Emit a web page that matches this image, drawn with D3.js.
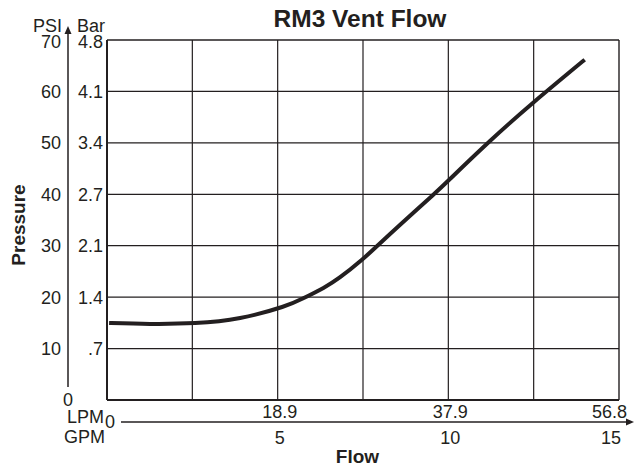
<!DOCTYPE html>
<html><head><meta charset="utf-8">
<script src="https://cdn.jsdelivr.net/npm/d3@7"></script>
<style>body{margin:0;background:#fff}svg{display:block}text{font-family:"Liberation Sans",Arial,Helvetica,sans-serif;fill:#231f20}</style>
</head><body>
<svg id="c" width="634" height="469"></svg>
<script>
const flowGpm = [0.12, 1.26, 2.58, 3.90, 5.13, 5.75, 6.34, 6.83, 7.46, 8.0, 8.58, 9.52, 10.08, 11.22, 12.51, 13.95];
const pressurePsi = [14.97, 14.8, 14.95, 15.94, 18.08, 19.78, 21.8, 23.88, 27.22, 30.47, 34.03, 39.67, 43.17, 50.36, 57.94, 65.92];
const psiTicks = [10, 20, 30, 40, 50, 60, 70];
const barTicks = [".7", "1.4", "2.1", "2.7", "3.4", "4.1", "4.8"];
const gpmGrid = [0, 2.5, 5, 7.5, 10, 12.5, 15];
const gpmTicks = [5, 10, 15];
const lpmTicks = ["18.9", "37.9", "56.8"];

const svg = d3.select("#c");
const L = 107, R = 619, T = 40, B = 400;
const x = d3.scaleLinear().domain([0, 15]).range([L, R]);
const y = d3.scaleLinear().domain([0, 70]).range([B, T]);
const ink = "#231f20";

// grid
svg.append("g").selectAll("line").data(gpmGrid.slice(1, -1)).join("line")
  .attr("x1", d => x(d)).attr("x2", d => x(d)).attr("y1", T).attr("y2", B)
  .attr("stroke", ink).attr("stroke-width", 1.2);
svg.append("g").selectAll("line").data(psiTicks.slice(0, -1)).join("line")
  .attr("x1", L).attr("x2", R).attr("y1", d => y(d)).attr("y2", d => y(d))
  .attr("stroke", ink).attr("stroke-width", 1.2);
// frame
svg.append("line").attr("x1", L).attr("x2", R).attr("y1", T).attr("y2", T).attr("stroke", ink).attr("stroke-width", 1.4);
svg.append("line").attr("x1", R).attr("x2", R).attr("y1", T).attr("y2", B).attr("stroke", ink).attr("stroke-width", 1.4);
svg.append("line").attr("x1", L).attr("x2", L).attr("y1", T).attr("y2", B).attr("stroke", ink).attr("stroke-width", 2);
svg.append("line").attr("x1", L).attr("x2", R).attr("y1", B).attr("y2", B).attr("stroke", ink).attr("stroke-width", 2);

// curve
const pts = flowGpm.map((g, i) => [g, pressurePsi[i]]);
svg.append("path").datum(pts)
  .attr("d", d3.line().x(d => x(d[0])).y(d => y(d[1])).curve(d3.curveNatural))
  .attr("fill", "none").attr("stroke", ink).attr("stroke-width", 4).attr("stroke-linecap", "square");

// y axis line with arrow
const ax = 68;
svg.append("line").attr("x1", ax).attr("x2", ax).attr("y1", 32).attr("y2", 387).attr("stroke", ink).attr("stroke-width", 1.5);
svg.append("path").attr("d", `M${ax},26 L${ax - 3.5},34 L${ax + 3.5},34 Z`).attr("fill", ink);
svg.append("text").attr("x", 62).attr("y", 32).attr("text-anchor", "end").attr("font-size", 18).text("PSI");
svg.append("text").attr("x", 77).attr("y", 32).attr("font-size", 18).text("Bar");
svg.append("g").selectAll("text").data(psiTicks).join("text")
  .attr("x", 61).attr("y", d => y(d) + 6.5 + (d === 70 ? 1 : 0)).attr("text-anchor", "end").attr("font-size", 18).text(d => d);
svg.append("g").selectAll("text").data(barTicks).join("text")
  .attr("x", 103).attr("y", (d, i) => y(psiTicks[i]) + 6.5 + (i === 6 ? 1 : 0)).attr("text-anchor", "end").attr("font-size", 18).text(d => d);
svg.append("text").attr("x", ax).attr("y", 405.5).attr("text-anchor", "middle").attr("font-size", 18).text("0");

// Pressure label
svg.append("text").attr("transform", "translate(25,225) rotate(-90)").attr("text-anchor", "middle")
  .attr("font-size", 19).attr("font-weight", "bold").text("Pressure");

// x axis line with arrow
const ay = 422;
svg.append("line").attr("x1", 121).attr("x2", 627).attr("y1", ay).attr("y2", ay).attr("stroke", ink).attr("stroke-width", 1.5);
svg.append("path").attr("d", `M634,${ay} L626,${ay - 3.5} L626,${ay + 3.5} Z`).attr("fill", ink);
svg.append("text").attr("x", 104).attr("y", 422.5).attr("text-anchor", "end").attr("font-size", 18).text("LPM");
svg.append("text").attr("x", 110).attr("y", 428).attr("text-anchor", "middle").attr("font-size", 18).text("0");
svg.append("text").attr("x", 105).attr("y", 443).attr("text-anchor", "end").attr("font-size", 18).text("GPM");
svg.append("g").selectAll("text").data(lpmTicks).join("text")
  .attr("x", (d, i) => i === 2 ? 627 : x(gpmTicks[i]) + 2).attr("y", 418).attr("text-anchor", (d, i) => i === 2 ? "end" : "middle")
  .attr("font-size", 18).text(d => d);
svg.append("g").selectAll("text").data(gpmTicks).join("text")
  .attr("x", (d, i) => i === 2 ? 611 : x(d) + 2).attr("y", 443.5).attr("text-anchor", "middle")
  .attr("font-size", 18).text(d => d);
svg.append("text").attr("x", 357.5).attr("y", 462.5).attr("text-anchor", "middle").attr("font-size", 19).attr("font-weight", "bold").text("Flow");

// title
svg.append("text").attr("x", 360).attr("y", 27).attr("text-anchor", "middle").attr("font-size", 24.5).attr("font-weight", "bold").text("RM3 Vent Flow");
</script>
</body></html>
